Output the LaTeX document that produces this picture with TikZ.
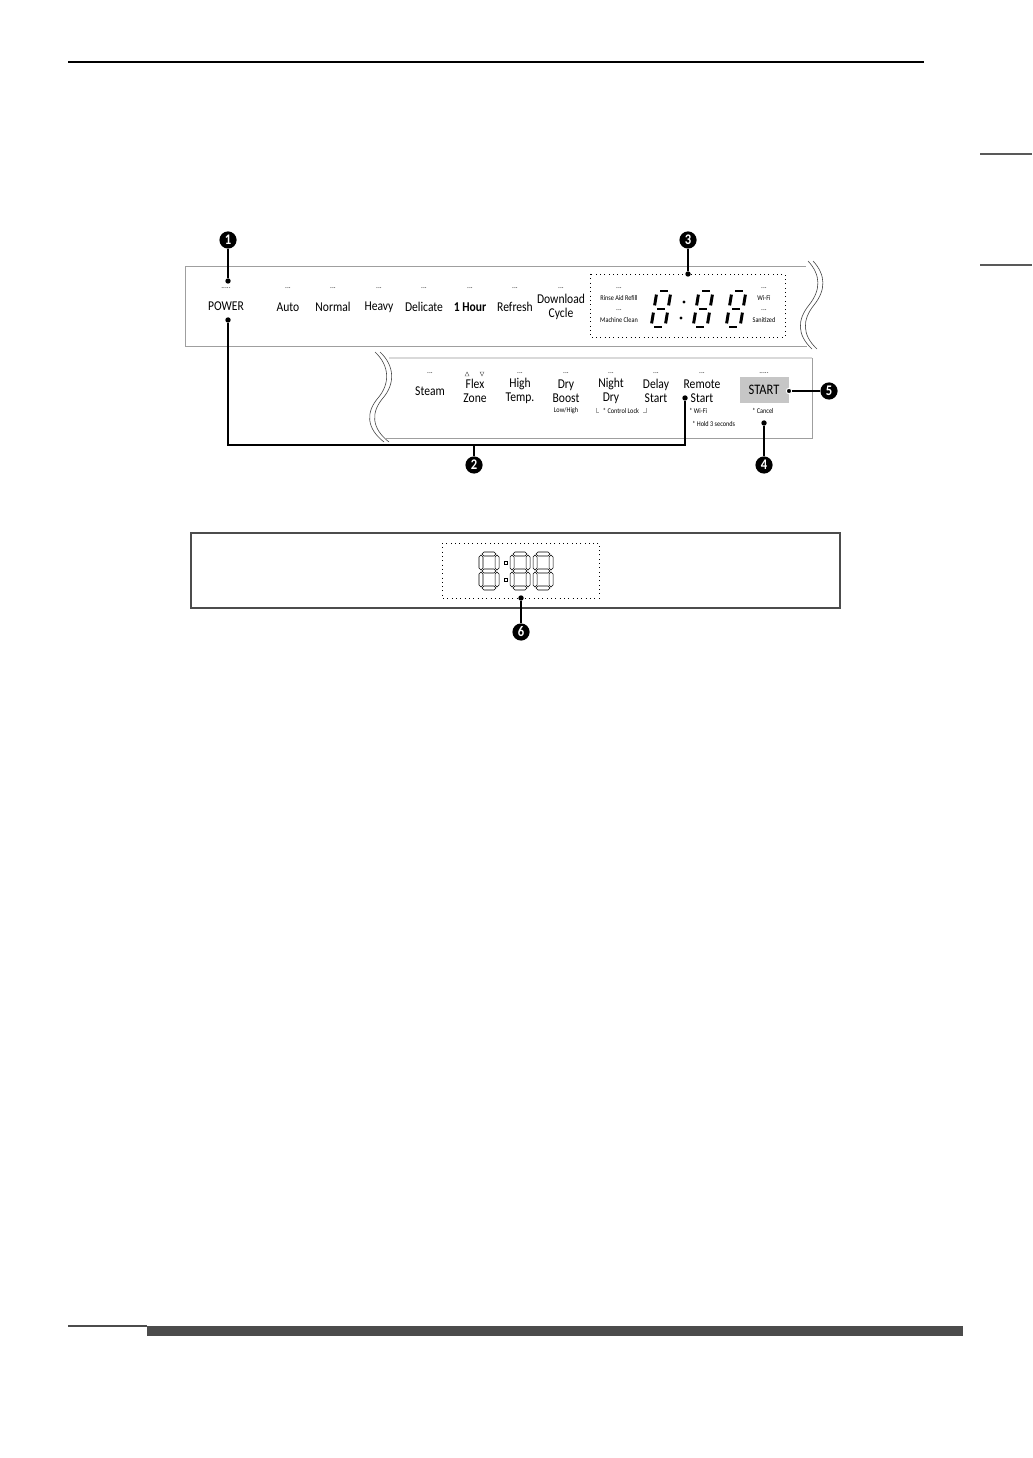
\documentclass[tikz,border=0pt]{standalone}
\usepackage{fontspec}
\setmainfont{Carlito}[FakeStretch=0.86]
\usetikzlibrary{positioning, calc}

\begin{document}
\begin{tikzpicture}[
    x=0.2035mm, y=-0.2035mm,
    panel/.style={draw=gray!75, line width=0.5pt},
    wave/.style={draw=gray!55!black, line width=0.35pt},
    btn/.style={font=\fontsize{7.8}{8.4}\selectfont, align=center, inner sep=0pt},
    btnb/.style={btn, font=\fontsize{7.8}{8.4}\selectfont\bfseries},
    note/.style={font=\fontsize{4.2}{5}\selectfont, align=center, inner sep=0pt},
    led/.style={font=\fontsize{5}{5}\selectfont, text=gray!55!black, inner sep=0pt},
    callout/.style={circle, fill=black, text=white, inner sep=0pt,
                    minimum size=3.5mm, font=\fontsize{8.5}{8.5}\selectfont\bfseries},
    dot/.style={circle, fill=black, inner sep=0pt, minimum size=1.1mm},
    lead/.style={line width=0.6pt},
    seg/.style={line width=0.6mm, line cap=butt},
    oseg/.style={draw=black, line width=0.3pt, line join=miter},
    % italic digit, origin top left
    idigit/.pic={
      \foreach \a/\b/\c/\d in {0.22/0/0.78/0, 0/0.1/0/0.4, 1/0.1/1/0.4, 0.22/0.5/0.78/0.5,
                               0/0.6/0/0.9, 1/0.6/1/0.9, 0.22/1/0.78/1}
        \draw[seg] (\a*14+6-\b*6, \b*36) -- (\c*14+6-\d*6, \d*36);
    },
    % outline digit, origin top left
    odigit/.pic={
      \foreach \q in {0, 17, 34}
        \draw[oseg] (1,\q) -- ++(2,-2) -- ++(10,0) -- ++(2,2) -- ++(-2,2) -- ++(-10,0) -- cycle;
      \foreach \p/\q in {0/1, 16/1, 0/18, 16/18}
        \draw[oseg] (\p,\q) -- ++(2,2) -- ++(0,11) -- ++(-2,2) -- ++(-2,-2) -- ++(0,-11) -- cycle;
    },
]

\useasboundingbox[fill=white] (0,0) rectangle (1032,1458);

% page furniture
\draw[line width=0.6pt] (68,62) -- (924,62);
\draw[gray!70!black, line width=0.8pt] (980,154) -- (1032,154);
\draw[gray!70!black, line width=0.8pt] (980,265) -- (1032,265);
\fill[black!70] (147,1326) rectangle (963,1336);
\draw[black!70, line width=0.8pt] (68,1326) -- (147,1326);

% upper panel
\draw[panel] (806,266) -- (185,266) -- (185,346) -- (807,346);
\draw[wave] (808,261) .. controls (821,275) and (821,290) .. (809,305)
            .. controls (797,320) and (797,335) .. (812,349);
\draw[wave] (813,261) .. controls (826,275) and (826,290) .. (814,305)
            .. controls (802,320) and (802,335) .. (817,349);

% lower panel
\draw[gray!30, line width=1pt] (389,358) -- (812,358);
\draw[panel] (812,358) -- (812,438) -- (386,438);
\draw[wave] (375,352) .. controls (390,366) and (390,384) .. (378,398)
            .. controls (366,412) and (366,428) .. (384,442);
\draw[wave] (380,352) .. controls (395,366) and (395,384) .. (383,398)
            .. controls (371,412) and (371,428) .. (389,442);

% upper panel buttons
\node[led] at (226,288) (pwrled) {.....};
\node[btn] at (226,306) (pwr) {POWER};
\node[led] at (288,288) (autoled) {...};
\node[btn] at (288,307) (auto) {Auto};
\node[led] at (333,288) (normled) {...};
\node[btn] at (333,307) (norm) {Normal};
\node[led] at (379,288) (heavyled) {...};
\node[btn] at (379,307) (heavy) {Heavy};
\node[led] at (424,288) (delled) {...};
\node[btn] at (424,307) (deli) {Delicate};
\node[led] at (470,288) (hourled) {...};
\node[btnb] at (470,307) (hour) {1 Hour};
\node[led] at (515,288) (refled) {...};
\node[btn] at (515,307) (refr) {Refresh};
\node[led] at (561,288) (dlled) {...};
\node[btn] at (561,307) (dl) {Download\\Cycle};

% display window
\draw[dotted, line width=0.5pt] (590,274) rectangle (785,337);
\node[led] at (619,288) (rinseled) {...};
\node[note] at (619,298) (rinse) {Rinse Aid Refill};
\node[led] at (619,310) (cleanled) {...};
\node[note] at (619,320) (clean) {Machine Clean};
\node[led] at (764,288) (wifiled) {...};
\node[note] at (764,298) (wifi) {Wi-Fi};
\node[led] at (764,310) (saniled) {...};
\node[note] at (764,320) (sani) {Sanitized};
\pic at (651,291) {idigit};
\pic at (693,291) {idigit};
\pic at (726,291) {idigit};
\fill (684,302) circle (1.7);
\fill (681,318) circle (1.7);

% lower panel buttons
\node[led] at (430,373) (steamled) {...};
\node[btn] at (430,391) (steam) {Steam};
\draw[gray!60!black, line width=0.25pt] (465,376) -- (467,372) -- (469,376) -- cycle;
\draw[gray!60!black, line width=0.25pt] (480,372) -- (484,372) -- (482,376) -- cycle;
\node[btn] at (475,391) (flex) {Flex\\Zone};
\node[led] at (520,373) (hiled) {...};
\node[btn] at (520,391) (hitemp) {High\\Temp.};
\node[led] at (566,373) (boostled) {...};
\node[btn] at (566,391) (boost) {Dry\\Boost};
\node[note] at (566,411) (lowhigh) {Low/High};
\node[led] at (611,373) (nightled) {...};
\node[btn] at (611,391) (night) {Night\\Dry};
\node[led] at (656,373) (delayled) {...};
\node[btn] at (656,391) (delay) {Delay\\Start};
\node[note] at (621,411) (lock) {* Control Lock};
\draw[gray!70, line width=0.3pt] (596,408) -- (596,412) -- (599,412);
\draw[gray!70, line width=0.3pt] (646,408) -- (646,412) -- (643,412);
\node[led] at (702,373) (remled) {...};
\node[btn] at (702,391) (remote) {Remote\\Start};
\node[note, anchor=west] at (689,411) (remwifi) {* Wi-Fi};
\node[note, anchor=west] at (692,424) (hold) {* Hold 3 seconds};
\node[led] at (764,373) (startled) {.....};
\node[fill=gray!45, minimum width=49*0.2035mm, minimum height=26*0.2035mm,
      inner sep=0pt, font=\fontsize{8.4}{9}\selectfont] at (764,390) (start) {START};
\node[note] at (763,411) (cancel) {* Cancel};

% lower display
\draw[draw=gray!60!black, line width=0.6pt] (191,533) rectangle (840,608);
\draw[dotted, line width=0.5pt] (442,543) rectangle (599,598);
\pic at (481,554) {odigit};
\pic at (512,554) {odigit};
\pic at (535,554) {odigit};
\draw[oseg] (504,561) rectangle (507,564);
\draw[oseg] (504,578) rectangle (507,581);

% callout dots
\node[dot] at (228,281) (pwrtop) {};
\node[dot] at (228,320) (pwrbot) {};
\node[dot] at (685,398) (remdot) {};
\node[dot] at (688,274) (dispdot) {};
\node[dot] at (764,423) (canceldot) {};
\node[dot, draw=white, line width=0.6pt] at (789,391) (startdot) {};
\node[dot] at (521,598) (lowdot) {};
\coordinate (brk) at (474,445);

% callout circles
\node[callout] at (228,240) (c1) {1};
\node[callout] at (474,465) (c2) {2};
\node[callout] at (688,240) (c3) {3};
\node[callout] at (764,465) (c4) {4};
\node[callout] at (829,391) (c5) {5};
\node[callout] at (521,632) (c6) {6};

% leaders
\draw[lead] (c1) -- (pwrtop);
\draw[lead] (pwrbot) -- (pwrbot |- brk) -- (remdot |- brk) -- (remdot);
\draw[lead] (brk) -- (c2);
\draw[lead] (c3) -- (dispdot);
\draw[lead] (canceldot) -- (c4);
\draw[lead] (startdot) -- (c5);
\draw[lead] (lowdot) -- (c6);
\end{tikzpicture}
\end{document}
